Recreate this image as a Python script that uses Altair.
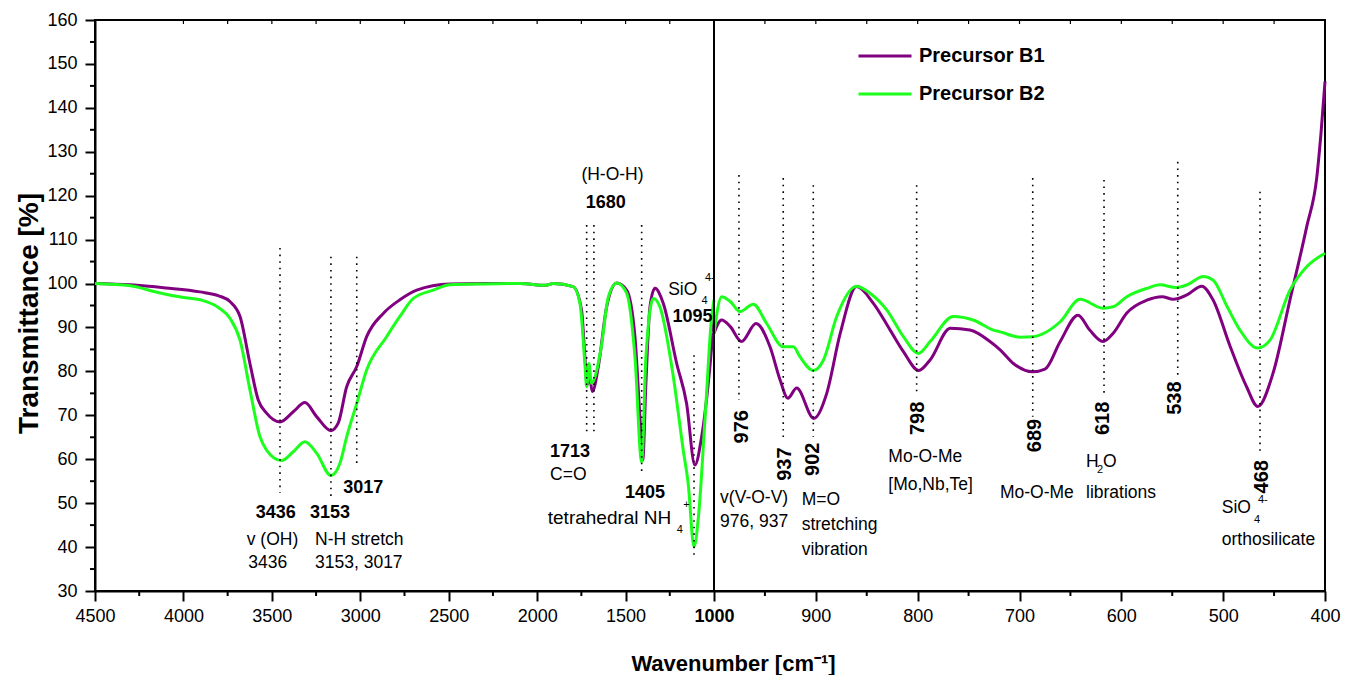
import altair as alt
import pandas as pd

# ---------------- data ----------------
series_names = ["Precursor B1", "Precursor B2"]

# left panel (4500 -> 1000 cm-1)
b1_left_w = [4500, 4300, 4100, 3906, 3800, 3737, 3680, 3624, 3577, 3530, 3454, 3379, 3313, 3247,
             3166, 3125, 3077, 3020, 2964, 2870, 2776, 2681, 2493, 2300, 2097, 1950, 1909, 1796,
             1749, 1730, 1717, 1704, 1688, 1654, 1607, 1550, 1494, 1447, 1419, 1403, 1385, 1362,
             1334, 1287, 1211, 1155, 1108, 1070, 1023, 1000]
b1_left_v = [100.0, 99.7, 99.0, 98.1, 97.2, 95.9, 92.5, 81.8, 73.5, 70.5, 68.5, 70.8, 72.9, 69.7,
             66.5, 68.2, 76.5, 81.1, 87.9, 93.2, 96.3, 98.5, 99.9, 100.0, 100.0, 99.6, 100.0, 99.3,
             94.0, 83.3, 76.9, 78.8, 75.4, 81.1, 94.7, 100.1, 98.5, 87.9, 69.7, 59.8, 77.3, 94.7,
             98.9, 95.5, 81.8, 72.7, 58.7, 65.1, 81.1, 91.7]

b2_left_w = [4500, 4300, 4150, 4000, 3906, 3800, 3737, 3680, 3624, 3567, 3530, 3445, 3379, 3313,
             3247, 3166, 3115, 3077, 3020, 2964, 2851, 2776, 2700, 2587, 2493, 2300, 2097, 1950,
             1909, 1796, 1758, 1730, 1720, 1707, 1693, 1640, 1597, 1550, 1494, 1447, 1409, 1385,
             1343, 1306, 1230, 1174, 1146, 1113, 1088, 1050, 1013, 1000]
b2_left_v = [100.0, 99.5, 98.0, 96.8, 96.3, 94.5, 92.1, 87.1, 75.8, 65.1, 62.1, 59.7, 61.7, 64.0,
             61.4, 56.3, 59.1, 65.1, 72.7, 80.3, 87.9, 92.5, 96.6, 98.5, 99.7, 99.9, 100.0, 99.6,
             100.0, 99.3, 95.5, 81.8, 76.5, 81.8, 77.3, 84.9, 97.0, 100.1, 97.8, 83.3, 59.4, 83.3,
             96.6, 94.7, 78.8, 62.1, 54.5, 40.1, 46.9, 69.7, 92.5, 96.3]

# right panel (1000 -> 400 cm-1)
b1_right_w = [1000, 992.5, 984, 973, 958.7, 945, 935, 927.5, 918.8, 902, 889.3, 876, 860, 843.5,
              827, 814, 799, 787.8, 768, 748.7, 729, 719, 706, 687, 675, 660, 642.5, 631, 618,
              608, 594.6, 575, 560, 549, 535.6, 521, 510, 493, 477, 466, 451, 434.4, 418, 408,
              404, 400]
b1_right_v = [88.7, 91.7, 90.2, 86.8, 90.9, 85.6, 78.0, 73.9, 76.2, 69.3, 75.0, 88.7, 99.3, 95.5,
              89.4, 84.5, 80.2, 82.6, 89.8, 89.4, 86.8, 84.9, 81.8, 79.9, 80.5, 86.8, 92.8, 89.4,
              86.8, 88.7, 93.3, 96.2, 97.0, 96.4, 97.4, 99.4, 96.3, 85.6, 76.5, 72.0, 79.6, 96.3,
              112.9, 124.3, 134.0, 146.0]

b2_right_w = [1000, 992.5, 984, 974.5, 961.4, 948.3, 932, 922, 915.5, 902.4, 892.5, 879.5, 860,
              846.8, 830.4, 814, 799.3, 787.8, 765, 745.4, 725.7, 719, 699.5, 687, 675, 660, 640.6,
              618, 608, 594.6, 575, 562, 546, 535.6, 519.5, 510, 496, 483.5, 466, 454, 434.4, 418,
              400]
b2_right_v = [88.7, 97.0, 95.9, 93.6, 95.3, 90.9, 85.6, 85.6, 83.3, 80.2, 82.6, 92.5, 99.4,
              97.8, 94.0, 87.9, 84.1, 86.8, 92.5, 91.7, 89.4, 89.0, 87.8, 87.9, 88.8, 91.3, 96.4,
              94.4, 94.7, 97.0, 98.9, 99.7, 99.1, 99.7, 101.6, 100.8, 94.7, 89.4, 85.3, 87.1, 98.5,
              103.8, 106.9]

# axis tick values
x_major = [4500, 4000, 3500, 3000, 2500, 2000, 1500, 1000, 900, 800, 700, 600, 500, 400]
x_minor = [4250, 3750, 3250, 2750, 2250, 1750, 1250, 950, 850, 750, 650, 550, 450]
x_top = [4000, 3750, 3500, 3250, 3000, 2750, 2500, 2250, 2000, 1750, 1500, 1250,
         950, 900, 850, 800, 750, 700, 650, 600, 550, 500, 450]
y_major = list(range(30, 161, 10))
y_minor = list(range(35, 160, 10))
panel_break = [1000]

# dotted marker lines: position, top, bottom
mark_w = [3454, 3166, 3020, 1720, 1679, 1409, 1113, 975.5, 932, 902.5, 801, 687, 617, 544.6, 463.8]
mark_top = [108.1, 106.1, 106.1, 113.3, 113.3, 113.3, 83.7, 124.7, 124.0, 122.4, 122.4, 124.0,
            123.6, 127.7, 120.9]
mark_bot = [52.3, 50.7, 58.3, 65.9, 65.9, 56.4, 38.2, 73.5, 64.4, 65.1, 75.0, 69.7, 74.2, 78.8,
            61.0]

# bold horizontal peak labels
bold_txt = ["3436", "3153", "3017", "1680", "1713", "1405", "1095"]
bold_w = [3478, 3171, 2983, 1612, 1814, 1390, 1122]
bold_v = [47.7, 47.7, 53.4, 118.3, 61.7, 52.2, 92.3]

# rotated bold peak labels
rot_txt = ["976", "937", "902", "798", "689", "618", "538", "468"]
rot_w = [972.8, 930.3, 902.5, 799.4, 684.8, 617.7, 547.3, 462.2]
rot_v = [67.4, 58.9, 60.0, 69.3, 65.4, 69.3, 73.9, 56.0]

# descriptive texts (left aligned)
desc_txt = ["v (OH)", "3436", "N-H stretch", "3153, 3017", "SiO",
            "v(V-O-V)", "976, 937", "M=O", "stretching", "vibration", "Mo-O-Me", "[Mo,Nb,Te]",
            "Mo-O-Me", "H", "O", "librations", "SiO", "orthosilicate"]
desc_w = [3642, 3633, 3256, 3256, 1259,
          994, 994, 913.9, 913.9, 913.9, 828.8, 828.8,
          719.2, 634.7, 618.0, 634.7, 501.4, 501.4]
desc_v = [41.6, 36.3, 41.6, 36.3, 98.5,
          51.1, 45.8, 50.7, 45.0, 39.3, 60.6, 54.1,
          52.2, 59.4, 59.4, 52.2, 48.8, 41.6]

# wider descriptive text
wide_txt = ["tetrahedral NH"]
wide_w = [1940]
wide_v = [46.6]

# descriptive texts (centred)
cdesc_txt = ["(H-O-H)", "C=O"]
cdesc_w = [1574, 1824]
cdesc_v = [124.7, 56.4]

# small sub / superscripts
small_txt = ["4", "+", "4", "4-", "2", "4", "4-"]
small_w = [1211, 1174, 1070, 1051, 623.9, 469.7, 465.8]
small_v = [43.9, 49.6, 96.0, 101.3, 57.6, 46.2, 50.7]

# ---------------- tables ----------------
rows = []
for name, panel, ws, vs in [
    (series_names[0], "left", b1_left_w, b1_left_v),
    (series_names[0], "right", b1_right_w, b1_right_v),
    (series_names[1], "left", b2_left_w, b2_left_v),
    (series_names[1], "right", b2_right_w, b2_right_v),
]:
    for i, (w, v) in enumerate(zip(ws, vs)):
        rows.append({"series": name, "panel": panel, "w": w, "v": v, "i": i})
spec = pd.DataFrame(rows)

FONT = "Liberation Sans"
PURPLE = "#800080"
GREEN = "#1cff1c"

xscale = alt.Scale(domain=[4500, 1000, 400], range=[0, 619, 1230], nice=False, zero=False)
yscale = alt.Scale(domain=[30, 160], nice=False, zero=False)

xaxis = alt.Axis(
    values=x_major, format="d", grid=False, tickSize=10, tickWidth=2, domainWidth=2,
    domainColor="black", tickColor="black", labelFont=FONT, labelFontSize=18,
    labelColor="black", labelPadding=6, labelFlush=False, labelOverlap=False,
    labelFontWeight={"condition": {"test": "datum.value == 1000", "value": "bold"}, "value": "normal"},
    title="Wavenumber [cm\u207b\u00b9]", titleFont=FONT, titleFontSize=22, titleFontWeight="bold",
    titleColor="black", titleX=638, titleY=72, titleAlign="center", titleBaseline="middle",
)
yaxis = alt.Axis(
    values=y_major, grid=False, tickSize=10, tickWidth=2, domainWidth=2, domainColor="black",
    tickColor="black", labelFont=FONT, labelFontSize=18, labelColor="black", labelPadding=8,
    labelFlush=False,
    title="Transmittance [%]", titleFont=FONT, titleFontSize=28, titleFontWeight="bold",
    titleColor="black", titleX=-66, titleY=293, titleAngle=270, titleAlign="center",
    titleBaseline="middle",
)
X = alt.X("w:Q", scale=xscale, axis=xaxis)
Y = alt.Y("v:Q", scale=yscale, axis=yaxis)

color = alt.Color(
    "series:N",
    scale=alt.Scale(domain=series_names, range=[PURPLE, GREEN]),
    legend=alt.Legend(
        title=None, orient="none", legendX=762, legendY=8, symbolType="stroke",
        symbolSize=2809, symbolStrokeWidth=3, labelFont=FONT, labelFontSize=20,
        labelFontWeight="bold", labelColor="black", labelOffset=6, rowPadding=-3,
    ),
)

lines = []
for name in series_names:
    lines.append(
        alt.Chart(spec[spec.series == name])
        .mark_line(strokeWidth=3, interpolate="monotone")
        .encode(x=X, y=Y, color=color, detail="panel:N", order="i:Q")
    )

marks_df = pd.DataFrame({"w": mark_w, "v": mark_top, "v2": mark_bot})
dotted = alt.Chart(marks_df).mark_rule(color="black", strokeWidth=1.6, strokeDash=[1.6, 5]).encode(
    x=X, y=Y, y2="v2:Q"
)

brk = alt.Chart(pd.DataFrame({"w": panel_break})).mark_rule(color="black", strokeWidth=2).encode(
    x=X, y=alt.value(0), y2=alt.value(571)
)

xminor = alt.Chart(pd.DataFrame({"w": x_minor})).mark_rule(color="black", strokeWidth=2).encode(
    x=X, y=alt.value(571), y2=alt.value(576)
)
xtop = alt.Chart(pd.DataFrame({"w": x_top})).mark_rule(color="black", strokeWidth=1.2).encode(
    x=X, y=alt.value(0), y2=alt.value(4)
)
yminor = alt.Chart(pd.DataFrame({"v": y_minor})).mark_rule(color="black", strokeWidth=2).encode(
    y=Y, x=alt.value(-5), x2=alt.value(0)
)

bold_df = pd.DataFrame({"t": bold_txt, "w": bold_w, "v": bold_v})
bold = alt.Chart(bold_df).mark_text(
    font=FONT, fontSize=18, fontWeight="bold", align="center", baseline="middle", color="black"
).encode(x=X, y=Y, text="t:N")

rot_df = pd.DataFrame({"t": rot_txt, "w": rot_w, "v": rot_v})
rot = alt.Chart(rot_df).mark_text(
    font=FONT, fontSize=20, fontWeight="bold", align="center", baseline="middle", angle=270,
    color="black"
).encode(x=X, y=Y, text="t:N")

desc_df = pd.DataFrame({"t": desc_txt, "w": desc_w, "v": desc_v})
desc = alt.Chart(desc_df).mark_text(
    font=FONT, fontSize=17.5, align="left", baseline="middle", color="black"
).encode(x=X, y=Y, text="t:N")

wide_df = pd.DataFrame({"t": wide_txt, "w": wide_w, "v": wide_v})
wide = alt.Chart(wide_df).mark_text(
    font=FONT, fontSize=19, align="left", baseline="middle", color="black"
).encode(x=X, y=Y, text="t:N")

cdesc_df = pd.DataFrame({"t": cdesc_txt, "w": cdesc_w, "v": cdesc_v})
cdesc = alt.Chart(cdesc_df).mark_text(
    font=FONT, fontSize=17.5, align="center", baseline="middle", color="black"
).encode(x=X, y=Y, text="t:N")

small_df = pd.DataFrame({"t": small_txt, "w": small_w, "v": small_v})
small = alt.Chart(small_df).mark_text(
    font=FONT, fontSize=11, align="left", baseline="middle", color="black"
).encode(x=X, y=Y, text="t:N")

chart = (
    alt.layer(*lines, dotted, brk, xminor, xtop, yminor, bold, rot, desc, wide, cdesc, small)
    .properties(
        width=1230, height=571,
        padding={"left": 95, "top": 20, "right": 29, "bottom": 84},
        autosize=alt.AutoSizeParams(type="none"),
        background="white",
    )
    .configure_view(stroke="black", strokeWidth=2)
)

chart.save("out.html", embed_options={"renderer": "svg", "actions": False})
